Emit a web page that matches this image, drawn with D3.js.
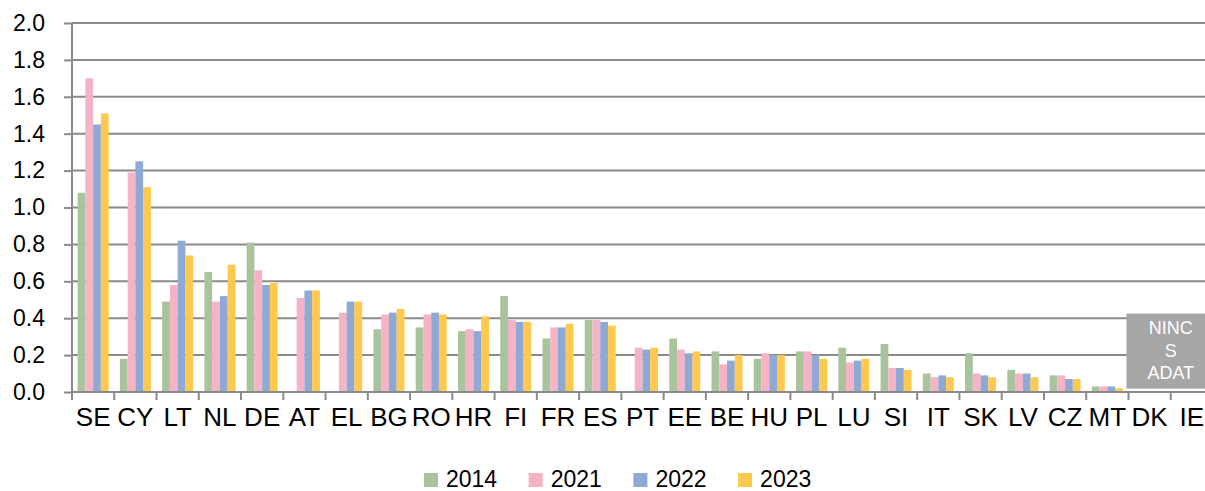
<!DOCTYPE html>
<html>
<head>
<meta charset="utf-8">
<script src="https://cdn.jsdelivr.net/npm/d3@7"></script>
<style>
  body { margin: 0; background: #fff; }
  text { font-family: "Liberation Sans", Arial, sans-serif; fill: #000; }
</style>
</head>
<body>
<div id="chart"></div>
<script>
//Define Data We Want

const countries = ["SE", "CY", "LT", "NL", "DE", "AT", "EL", "BG", "RO", "HR", "FI", "FR", "ES", "PT",
    "EE", "BE", "HU", "PL", "LU", "SI", "IT", "SK", "LV", "CZ", "MT", "DK", "IE"];

const years = ["2014", "2021", "2022", "2023"];

const v2014 = [1.08, 0.18, 0.49, 0.65, 0.81, null, null, 0.34, 0.35, 0.33, 0.52, 0.29, 0.39, null,
    0.29, 0.22, 0.18, 0.22, 0.24, 0.26, 0.10, 0.21, 0.12, 0.09, 0.03, null, null];
const v2021 = [1.70, 1.19, 0.58, 0.49, 0.66, 0.51, 0.43, 0.42, 0.42, 0.34, 0.39, 0.35, 0.39, 0.24,
    0.23, 0.15, 0.21, 0.22, 0.16, 0.13, 0.08, 0.10, 0.10, 0.09, 0.03, null, null];
const v2022 = [1.45, 1.25, 0.82, 0.52, 0.58, 0.55, 0.49, 0.43, 0.43, 0.33, 0.38, 0.35, 0.38, 0.23,
    0.21, 0.17, 0.20, 0.20, 0.17, 0.13, 0.09, 0.09, 0.10, 0.07, 0.03, null, null];
const v2023 = [1.51, 1.11, 0.74, 0.69, 0.59, 0.55, 0.49, 0.45, 0.42, 0.41, 0.38, 0.37, 0.36, 0.24,
    0.22, 0.20, 0.20, 0.18, 0.18, 0.12, 0.08, 0.08, 0.08, 0.07, 0.02, null, null];

const yTicks = [0, 0.2, 0.4, 0.6, 0.8, 1.0, 1.2, 1.4, 1.6, 1.8, 2.0];
const colors = ["#a9c49c", "#f5b3c6", "#8fa9d5", "#ffc84f"];
const noDataLabel = ["NINC", "S", "ADAT"];

const series = [v2014, v2021, v2022, v2023];

//Create SVG element that holds the chart

const width = 1205;
const height = 491;
const margin = { top: 23, bottom: 99, left: 72, right: -8 };

const svg = d3.select("#chart")
    .append("svg")
    .attr("width", width)
    .attr("height", height)
    .attr("viewBox", [0, 0, width, height]);

//Scales

const x = d3.scaleBand()
    .domain(countries)
    .range([margin.left, width - margin.right])
    .paddingInner(0)
    .paddingOuter(0);

const x1 = d3.scaleBand()
    .domain(years)
    .range([0, x.bandwidth()])
    .paddingInner(0)
    .paddingOuter(0.726);

const y = d3.scaleLinear()
    .domain([0, 2])
    .range([height - margin.bottom, margin.top]);

//Gridlines

svg.append("g")
    .selectAll("line")
    .data(yTicks.filter(d => d > 0))
    .join("line")
    .attr("x1", margin.left)
    .attr("x2", width)
    .attr("y1", d => y(d))
    .attr("y2", d => y(d))
    .attr("stroke", "#8a8a8a")
    .attr("stroke-width", 2);

//Bars

const rows = [];
countries.forEach((c, i) => {
    years.forEach((yr, j) => {
        if (series[j][i] != null) rows.push({ country: c, year: yr, value: series[j][i], k: j });
    });
});

svg.append("g")
    .selectAll("rect")
    .data(rows)
    .join("rect")
    .attr("x", d => x(d.country) + x1(d.year))
    .attr("y", d => y(d.value))
    .attr("width", x1.bandwidth())
    .attr("height", d => y(0) - y(d.value))
    .attr("fill", d => colors[d.k]);

//Y axis

const yAxis = svg.append("g")
    .attr("transform", `translate(${margin.left},0)`)
    .call(d3.axisLeft(y).tickValues(yTicks).tickFormat(d3.format(".1f")).tickSize(8).tickPadding(19));

yAxis.select(".domain").attr("stroke", "#8a8a8a").attr("stroke-width", 2)
    .attr("d", `M0,${y(2)}V${y(0) + 8}`);
yAxis.selectAll(".tick line").attr("stroke", "#8a8a8a").attr("stroke-width", 2);
yAxis.selectAll(".tick text")
    .attr("font-size", 23)
    .attr("font-family", "Liberation Sans, Arial, sans-serif")
    .attr("fill", "#000");

//X axis

const xAxis = svg.append("g")
    .attr("transform", `translate(0,${y(0)})`)
    .call(d3.axisBottom(x).tickSize(0).tickPadding(16));

xAxis.select(".domain").attr("stroke", "#8a8a8a").attr("stroke-width", 2)
    .attr("d", `M${margin.left},0H${width}`);
xAxis.selectAll(".tick text")
    .attr("font-size", 26)
    .attr("dy", "0.71em")
    .attr("font-family", "Liberation Sans, Arial, sans-serif")
    .attr("fill", "#000");

// tick marks between categories
xAxis.append("g")
    .selectAll("line")
    .data(countries)
    .join("line")
    .attr("x1", d => x(d))
    .attr("x2", d => x(d))
    .attr("y1", 0)
    .attr("y2", 8)
    .attr("stroke", "#8a8a8a")
    .attr("stroke-width", 2);

//No data box for DK, IE

const boxX = x("DK") - 2;
const box = svg.append("g");
box.append("rect")
    .attr("x", boxX)
    .attr("y", y(0.425))
    .attr("width", width - boxX)
    .attr("height", y(0.018) - y(0.425))
    .attr("fill", "#a6a6a6");

box.append("text")
    .attr("text-anchor", "middle")
    .attr("font-size", 18)
    .style("fill", "#fff")
    .selectAll("tspan")
    .data(noDataLabel)
    .join("tspan")
    .attr("x", x("DK") + x.bandwidth())
    .attr("y", (d, i) => 334 + i * 22.5)
    .text(d => d);

//Legend

const legend = svg.append("g")
    .selectAll("g")
    .data(years)
    .join("g")
    .attr("transform", (d, i) => `translate(${424 + i * 104.7},473)`);

legend.append("rect")
    .attr("width", 14)
    .attr("height", 14)
    .attr("fill", (d, i) => colors[i]);

legend.append("text")
    .attr("x", 22)
    .attr("y", 13.5)
    .attr("font-size", 23)
    .text(d => d);
</script>
</body>
</html>
